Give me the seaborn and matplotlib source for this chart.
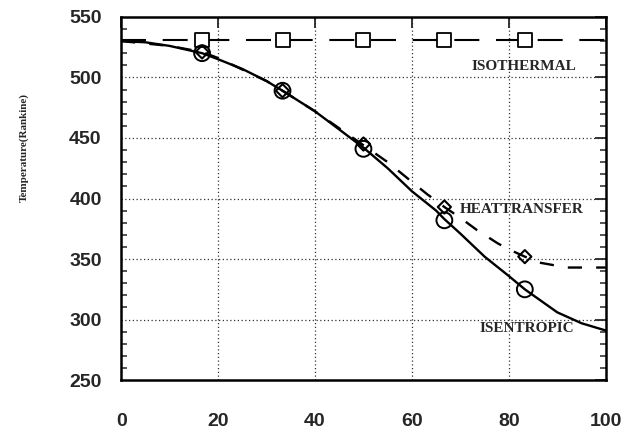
import matplotlib
matplotlib.use("Agg")
import matplotlib.pyplot as plt
import seaborn as sns
from matplotlib.ticker import MultipleLocator

sns.set_style("white")
plt.rcParams['font.family'] = ['Liberation Sans', 'DejaVu Sans']

# ---- data ----
iso_x = [0, 16.7, 33.3, 50, 66.7, 83.3, 100]
iso_y = [531, 531, 531, 531, 531, 531, 531]
iso_mx = [16.7, 33.3, 50, 66.7, 83.3]
iso_my = [531, 531, 531, 531, 531]

isen_x = [0, 5, 10, 16.7, 20, 25, 30, 33.3, 40, 45, 50, 55, 60, 65, 66.7, 70, 75, 80, 83.3, 90, 95, 100]
isen_y = [530, 529, 526, 520, 515, 507, 497, 489, 472, 457, 442, 425, 406, 390, 383, 371, 352, 336, 325, 306, 297, 291]
isen_mx = [16.7, 33.3, 50, 66.7, 83.3]
isen_my = [520, 489, 441, 382, 325]

heat_x = [0, 10, 16.7, 20, 30, 33.3, 40, 45, 50, 55, 59, 63, 66.7, 70, 73.4, 77.7, 80, 83.3, 86.4, 92, 100]
heat_y = [530, 526, 521, 516, 497, 489, 472, 458, 444, 430, 417, 404, 393, 384, 374, 363, 358, 352, 347, 343, 343]
heat_mx = [16.7, 33.3, 50, 66.7, 83.3]
heat_my = [521, 489, 445, 393, 352]

x_ticks = [0, 20, 40, 60, 80, 100]
y_ticks = [250, 300, 350, 400, 450, 500, 550]
labels = ["ISOTHERMAL", "HEATTRANSFER", "ISENTROPIC"]
label_pos = [(72.4, 509), (69.8, 391), (74.0, 293)]

fig = plt.figure(figsize=(6.41, 4.32), dpi=100)
ax = fig.add_axes([0.189, 0.120, 0.756, 0.841])

# grid
for gx in x_ticks[1:-1]:
    ax.axvline(gx, color="#333333", lw=0.9, ls=(0, (1, 2)), zorder=0)
for gy in y_ticks[1:-1]:
    ax.axhline(gy, color="#333333", lw=0.9, ls=(0, (1, 2)), zorder=0)

# isothermal
sns.lineplot(x=iso_x, y=iso_y, ax=ax, color="black", lw=1.5,
             linestyle=(0, (12, 8)), estimator=None, sort=False)
sns.scatterplot(x=iso_mx, y=iso_my, ax=ax, marker="s", s=110,
                facecolor="white", edgecolor="black", linewidth=1.3, zorder=5)

# isentropic
sns.lineplot(x=isen_x, y=isen_y, ax=ax, color="black", lw=1.7,
             estimator=None, sort=False)
sns.scatterplot(x=isen_mx, y=isen_my, ax=ax, marker="o", s=130,
                facecolors="none", edgecolor="black", linewidth=1.4, zorder=5)

# heat transfer
sns.lineplot(x=heat_x, y=heat_y, ax=ax, color="black", lw=1.7,
             linestyle=(0, (6, 6)), estimator=None, sort=False)
sns.scatterplot(x=heat_mx, y=heat_my, ax=ax, marker="D", s=45,
                facecolors="none", edgecolor="black", linewidth=1.5, zorder=6)

for txt, (tx, ty) in zip(labels, label_pos):
    ax.text(tx, ty, txt, family=["Liberation Serif", "DejaVu Serif"],
            fontsize=11, fontweight="bold", va="center", ha="left")

ax.set_xlim(0, 100)
ax.set_ylim(250, 550)
ax.set_xticks(x_ticks)
ax.set_yticks(y_ticks)
ax.yaxis.set_minor_locator(MultipleLocator(10))
ax.tick_params(axis="both", which="major", direction="in", length=8, width=1.3,
               top=True, right=True, labelsize=14)
ax.tick_params(axis="y", which="minor", direction="in", length=4, width=1.1,
               left=True, right=True)
ax.tick_params(axis="x", pad=24)
ax.tick_params(axis="y", pad=14)
for lab in ax.get_xticklabels() + ax.get_yticklabels():
    lab.set_fontweight("bold")

for sp in ax.spines.values():
    sp.set_linewidth(1.8)
    sp.set_color("black")

ax.set_ylabel("Temperature(Rankine)", family=["Liberation Serif", "DejaVu Serif"],
              fontsize=8, fontweight="bold")
ax.yaxis.set_label_coords(-0.19, 0.64)
ax.set_xlabel("")

fig.savefig("out.png", dpi=100)
